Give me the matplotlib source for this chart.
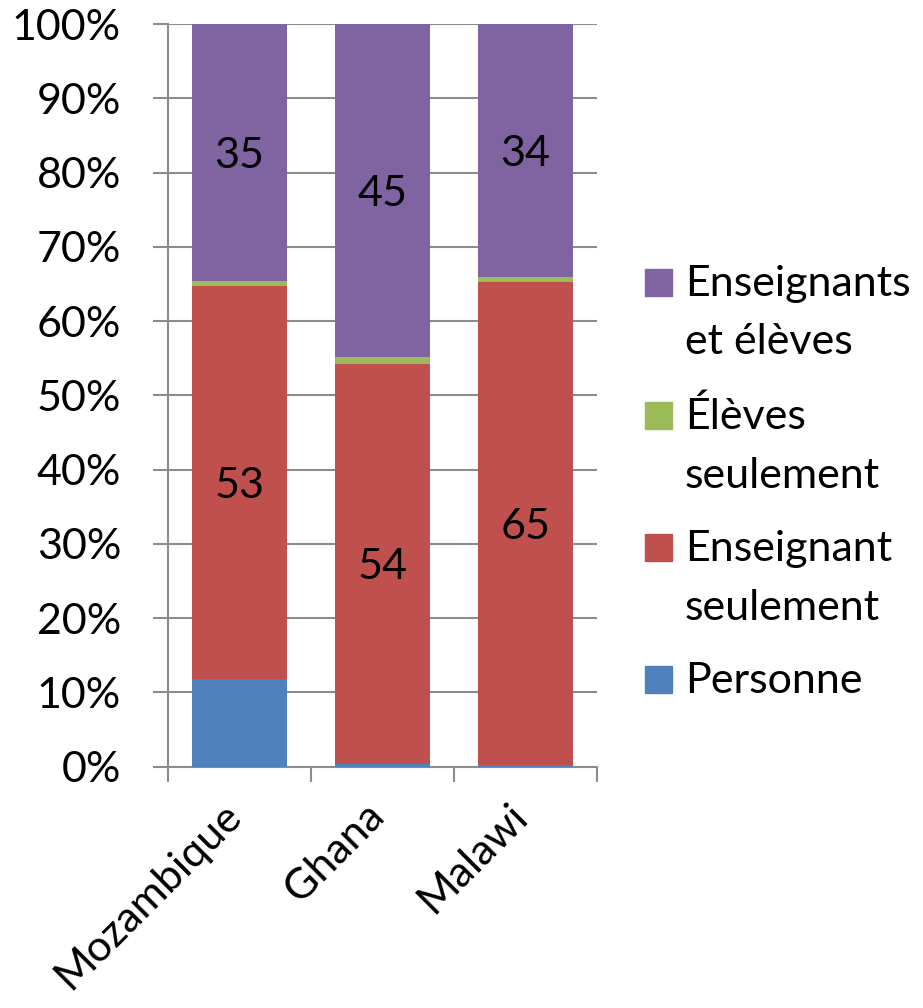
import matplotlib
matplotlib.use("Agg")
import matplotlib.pyplot as plt
import matplotlib.transforms as mtransforms
from matplotlib.patches import Rectangle
import numpy as np

plt.rcParams['font.family'] = ['Lato', 'DejaVu Sans']

countries = ["Mozambique", "Ghana", "Malawi"]
personne = [11.8, 0.4, 0.2]
enseignant_seul = [52.9, 53.8, 65.0]
eleves_seul = [0.7, 1.0, 0.7]
ens_et_eleves = [34.6, 44.8, 34.1]

series = [
    ("Personne", personne, "#4F81BD"),
    ("Enseignant\nseulement", enseignant_seul, "#C0504D"),
    ("Élèves\nseulement", eleves_seul, "#9BBB59"),
    ("Enseignants\net élèves", ens_et_eleves, "#8064A2"),
]
labelled = {1, 3}
FS = 31
W, H = 923, 1008

fig = plt.figure(figsize=(W / 100, H / 100), dpi=100)
ax = fig.add_axes([168 / W, 1 - 766.7 / H, (597 - 168) / W, (766.7 - 24) / H])

x = np.arange(len(countries))
bottom = np.zeros(len(countries))
for i, (name, vals, col) in enumerate(series):
    v = np.array(vals)
    ax.bar(x, v, 0.66, bottom=bottom, color=col, label=name, zorder=3,
           edgecolor='none')
    if i in labelled:
        for xi, vi, bi in zip(x, v, bottom):
            ax.annotate(f"{vi:.0f}", (xi, bi + vi / 2), xytext=(0, -2.5),
                        textcoords='offset points', ha='center', va='center',
                        fontsize=FS, color='black', zorder=4)
    bottom = bottom + v

ax.set_xlim(-0.5, 2.5)
ax.set_ylim(0, 100)
ax.set_yticks(np.arange(0, 101, 10))
ax.set_yticklabels([f"{t}%" for t in range(0, 101, 10)], fontsize=FS)
ax.yaxis.grid(True, color='#8C8C8C', linewidth=1.5, zorder=0)
ax.tick_params(axis='y', length=10.8, width=1.5, color='#8C8C8C', pad=23)

ax.set_xticks(x)
ax.set_xticklabels(countries, rotation=45, ha='right', rotation_mode='anchor',
                   fontsize=FS)
ax.tick_params(axis='x', length=0, pad=12)
ax.set_xticks([-0.5, 0.5, 1.5, 2.5], minor=True)
ax.tick_params(axis='x', which='minor', length=10.8, width=1.5, color='#8C8C8C')
off = mtransforms.ScaledTranslation(-0.18, -0.13, fig.dpi_scale_trans)
for lab in ax.get_xticklabels():
    lab.set_transform(lab.get_transform() + off)

for s in ['top', 'right']:
    ax.spines[s].set_visible(False)
for s in ['left', 'bottom']:
    ax.spines[s].set_color('#8C8C8C')
    ax.spines[s].set_linewidth(1.5)

# legend (reverse order, square aligned with first line)
baselines = [296, 429, 561, 693]
line_gap = 58.5
for (name, vals, col), yb in zip(series[::-1], baselines):
    fig.patches.append(Rectangle((645 / W, 1 - yb / H), 27 / W, 27 / H,
                                 transform=fig.transFigure, color=col))
    for k, line in enumerate(name.split("\n")):
        fig.text(685 / W, 1 - (yb + k * line_gap) / H, line, fontsize=FS,
                 ha='left', va='baseline')

fig.savefig("out.png", dpi=100)
